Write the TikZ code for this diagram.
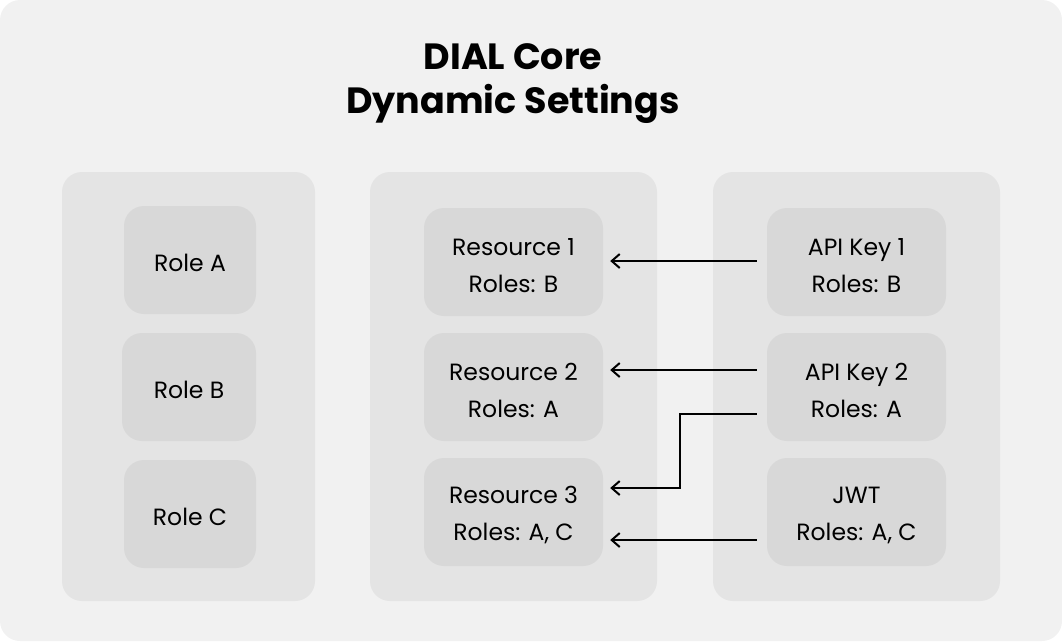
\documentclass[tikz,border=0pt]{standalone}
\usepackage{fontspec}
\setmainfont{Poppins}
\usetikzlibrary{arrows.meta,calc}
\definecolor{outerbg}{HTML}{F1F1F1}
\definecolor{colbg}{HTML}{E4E4E4}
\definecolor{boxbg}{HTML}{D8D8D8}
\newcommand\toppad{\rule{0pt}{23.5pt}}
\tikzset{
  colbox/.style={fill=colbg,draw=none,rounded corners=20pt,minimum height=429pt,inner sep=0pt},
  itembox/.style={fill=boxbg,draw=none,rounded corners=20pt,minimum width=179pt,minimum height=108pt,inner sep=0pt,align=center,font=\fontsize{23.5}{37}\selectfont,text=black},
  rolebox/.style={itembox,execute at begin node={\rule{0pt}{23.5pt}}},
  arr/.style={draw=black,line width=2pt,-{Straight Barb[length=8pt,width=14pt,line width=2pt]}},
}
\begin{document}
\begin{tikzpicture}[x=1pt,y=-1pt]
\useasboundingbox (0,0) rectangle (1062,641);
\fill[outerbg,rounded corners=20pt] (0,0) rectangle (1062,641);
\node[font=\fontsize{36.5}{44}\selectfont\bfseries,align=center,text=black] (title) at (513,84) {DIAL Core\\Dynamic Settings};
\node[colbox,minimum width=253pt] (lc) at (188.5,386.5) {};
\node[colbox,minimum width=287pt] (mc) at (513.5,386.5) {};
\node[colbox,minimum width=287pt] (rc) at (856.5,386.5) {};
\node[rolebox,minimum width=132pt] (ra) at (190,260) {Role A};
\node[rolebox,minimum width=134pt] (rb) at (189,387) {Role B};
\node[rolebox,minimum width=132pt] (rcc) at (190,514) {Role C};
\node[itembox] (r1) at (513.5,262) {\toppad Resource 1\\Roles: B};
\node[itembox] (r2) at (513.5,387) {\toppad Resource 2\\Roles: A};
\node[itembox] (r3) at (513.5,512) {\toppad Resource 3\\Roles: A, C};
\node[itembox] (k1) at (856.5,262) {\toppad API Key 1\\Roles: B};
\node[itembox] (k2) at (856.5,387) {\toppad API Key 2\\Roles: A};
\node[itembox] (jwt) at (856.5,512) {\toppad JWT\\Roles: A, C};
\draw[arr] ($(k1.west)+(-10,-1)$) -- ($(r1.east)+(7,-1)$);
\draw[arr] ($(k2.west)+(-10,-17)$) -- ($(r2.east)+(7,-17)$);
\draw[arr] ($(k2.west)+(-10,27)$) -| ($(r3.east)+(77,-24)$) -- ($(r3.east)+(7,-24)$);
\draw[arr] ($(jwt.west)+(-10,28)$) -- ($(r3.east)+(7,28)$);
\end{tikzpicture}
\end{document}
